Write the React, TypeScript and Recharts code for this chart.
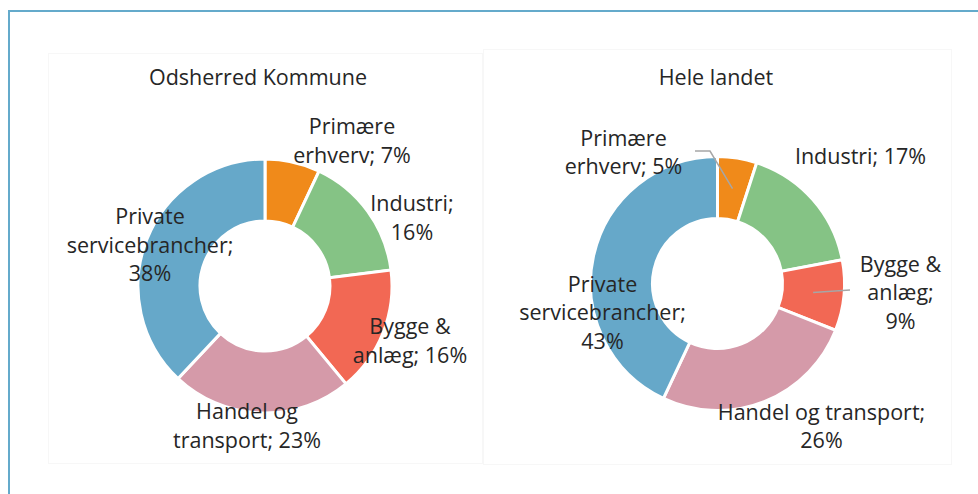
import React from "react";
import { PieChart, Pie, Cell } from "recharts";

// branche-fordeling, andel af beskæftigede (%)
const CATEGORIES = [
  "Primære erhverv",
  "Industri",
  "Bygge & anlæg",
  "Handel og transport",
  "Private servicebrancher",
];
const ODSHERRED = [7, 16, 16, 23, 38];
const HELE_LANDET = [5, 17, 9, 26, 43];
const TITLES = ["Odsherred Kommune", "Hele landet"];

const COLORS = ["#F08A1A", "#85C385", "#F26854", "#D59AA9", "#66A8C9"];
const TEXT = "#262626";
const FONT = "'Open Sans', 'Noto Sans', sans-serif";
const FS = 21.5;
const LH = 28.5;

type Spot = {
  dx: number; // label block centre, relative to pie centre
  dy: number;
  words: number[]; // words per line
  leader?: [number, number][];
};

const LEFT_SPOTS: Spot[] = [
  { dx: 87, dy: -146, words: [1, 2] },
  { dx: 147, dy: -69, words: [1, 1] },
  { dx: 145, dy: 54, words: [2, 2] },
  { dx: -18, dy: 139, words: [2, 2] },
  { dx: -115, dy: -42, words: [1, 1, 1] },
];

const RIGHT_SPOTS: Spot[] = [
  { dx: -94, dy: -132, words: [1, 2], leader: [[-7.5, -132.5], [-22.5, -132.5]] },
  { dx: 143, dy: -128, words: [2] },
  { dx: 183, dy: 8, words: [2, 1, 1], leader: [[132.5, 6.5]] },
  { dx: 104, dy: 142, words: [3, 1] },
  { dx: -115, dy: 28, words: [1, 1, 1] },
];

const RAD = Math.PI / 180;

function splitLines(text: string, counts: number[]) {
  const w = text.split(" ");
  const out: string[] = [];
  let i = 0;
  counts.forEach((c) => {
    out.push(w.slice(i, i + c).join(" "));
    i += c;
  });
  return out;
}

const makeLabel = (values: number[], spots: Spot[]) => (props: any) => {
  const { cx, cy, midAngle, innerRadius, outerRadius, index } = props;
  const spot = spots[index];
  const text = `${CATEGORIES[index]}; ${values[index]}%`;
  const lines = splitLines(text, spot.words);
  const x = cx + spot.dx;
  const y0 = cy + spot.dy - ((lines.length - 1) * LH) / 2;
  let leader = null;
  if (spot.leader) {
    const r = (innerRadius + outerRadius) / 2;
    const sx = cx + r * Math.cos(-midAngle * RAD);
    const sy = cy + r * Math.sin(-midAngle * RAD);
    const pts = [[sx, sy], ...spot.leader.map(([a, b]) => [cx + a, cy + b])];
    leader = (
      <polyline
        points={pts.map((p) => p.join(",")).join(" ")}
        fill="none"
        stroke="#A6A6A6"
        strokeWidth={1.5}
      />
    );
  }
  return (
    <g key={`lbl-${index}`}>
      {leader}
      {lines.map((ln, i) => (
        <text
          key={i}
          x={x}
          y={y0 + i * LH}
          textAnchor="middle"
          dominantBaseline="central"
          fill={TEXT}
          fontSize={FS}
          fontFamily={FONT}
        >
          {ln}
        </text>
      ))}
    </g>
  );
};

function Donut({
  title,
  values,
  spots,
  box,
  center,
  titlePos,
}: {
  title: string;
  values: number[];
  spots: Spot[];
  box: { left: number; top: number; width: number; height: number };
  center: [number, number];
  titlePos: [number, number];
}) {
  const data = CATEGORIES.map((name, i) => ({ name, value: values[i] }));
  return (
    <div
      style={{
        position: "absolute",
        ...box,
        boxSizing: "border-box",
        border: "1px solid #F7F7F7",
      }}
    >
      <div
        style={{
          position: "absolute",
          left: titlePos[0] - 150,
          top: titlePos[1] - 15,
          width: 300,
          height: 30,
          lineHeight: "30px",
          textAlign: "center",
          fontFamily: FONT,
          fontSize: FS,
          color: TEXT,
        }}
      >
        {title}
      </div>
      <PieChart
        width={box.width - 2}
        height={box.height - 2}
        margin={{ top: 0, right: 0, bottom: 0, left: 0 }}
      >
        <Pie
          data={data}
          dataKey="value"
          nameKey="name"
          cx={center[0]}
          cy={center[1]}
          innerRadius={65}
          outerRadius={127}
          startAngle={90}
          endAngle={-270}
          stroke="#FFFFFF"
          strokeWidth={3}
          label={makeLabel(values, spots)}
          labelLine={false}
          isAnimationActive={false}
        >
          {data.map((d, i) => (
            <Cell key={d.name} fill={COLORS[i]} />
          ))}
        </Pie>
      </PieChart>
    </div>
  );
}

export default function App() {
  return (
    <div
      style={{
        position: "absolute",
        left: 0,
        top: 0,
        width: 978,
        height: 494,
        overflow: "hidden",
        background: "#FFFFFF",
      }}
    >
      <div
        style={{
          position: "absolute",
          left: 8,
          top: 10,
          width: 1000,
          height: 520,
          borderTop: "2px solid #64AACB",
          borderLeft: "2px solid #64AACB",
        }}
      />
      <Donut
        title={TITLES[0]}
        values={ODSHERRED}
        spots={LEFT_SPOTS}
        box={{ left: 48, top: 53, width: 435, height: 411 }}
        center={[216, 232]}
        titlePos={[209, 23]}
      />
      <Donut
        title={TITLES[1]}
        values={HELE_LANDET}
        spots={RIGHT_SPOTS}
        box={{ left: 483, top: 49, width: 469, height: 416 }}
        center={[233.5, 233.5]}
        titlePos={[232, 27]}
      />
    </div>
  );
}
